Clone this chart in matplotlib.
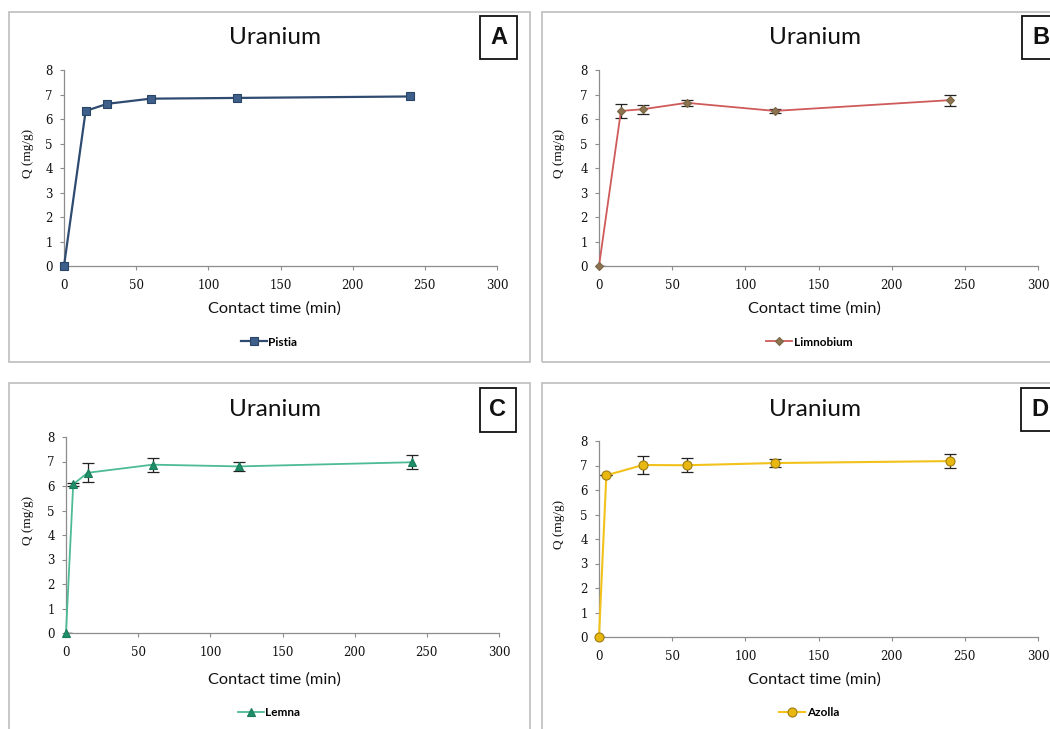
import matplotlib
matplotlib.use("Agg")
import matplotlib.pyplot as plt
from matplotlib.patches import Rectangle
from matplotlib.lines import Line2D

# ---- data ----
pistia_t = [0, 15, 30, 60, 120, 240]
pistia_q = [0, 6.33, 6.62, 6.83, 6.86, 6.92]

limno_t = [0, 15, 30, 60, 120, 240]
limno_q = [0, 6.33, 6.40, 6.66, 6.33, 6.77]
limno_err = [0, 0.29, 0.18, 0.13, 0.09, 0.22]

lemna_t = [0, 5, 15, 60, 120, 240]
lemna_q = [0, 6.07, 6.54, 6.87, 6.80, 6.97]
lemna_err = [0, 0.05, 0.38, 0.29, 0.17, 0.29]

azolla_t = [0, 5, 30, 60, 120, 240]
azolla_q = [0, 6.60, 7.02, 7.01, 7.10, 7.18]
azolla_err = [0, 0, 0.38, 0.28, 0.18, 0.27]

xticks = [0, 50, 100, 150, 200, 250, 300]
yticks = [0, 1, 2, 3, 4, 5, 6, 7, 8]
panel_letters = ["A", "B", "C", "D"]
title_text = "Uranium"
xlabel_text = "Contact time (min)"
ylabel_text = "Q (mg/g)"

W, H = 1050, 729
fig = plt.figure(figsize=(W / 100, H / 100), dpi=100)
fig.patch.set_facecolor("white")


def fx(x):
    return x / W


def fy(y):
    return 1 - y / H


def add_axes_px(l, r, t, b):
    return fig.add_axes([fx(l), fy(b), (r - l) / W, (b - t) / H])


# panel frames
for (x0, y0, x1, y1) in [(9, 12, 530, 362), (542, 12, 1060, 362),
                         (9, 383, 530, 740), (542, 383, 1060, 740)]:
    fig.patches.append(Rectangle((fx(x0), fy(y1)), (x1 - x0) / W, (y1 - y0) / H,
                                 transform=fig.transFigure, fill=False,
                                 edgecolor="#bdbdbd", linewidth=1.2, zorder=0))

axes_px = [(64, 497, 70, 266), (599, 1038, 70, 266),
           (66, 499, 437, 633), (599, 1038, 441, 637)]
panel_cx = [275, 815, 275, 815]
title_y = [38, 38, 410, 410]
xlabel_y = [309, 309, 680, 680]
legend_y = [342, 342, 713, 713]
ylabel_x = [28, 559, 28, 559]
box_px = [(480, 16, 517, 59), (1022, 16, 1062, 59),
          (480, 388, 516, 432), (1021, 388, 1061, 431)]

series = [
    dict(t=pistia_t, q=pistia_q, err=None, name="Pistia", color="#2f4b70",
         mfc="#3d5f8a", mec="#2a4466", marker="s", ms=5.5, lw=1.6),
    dict(t=limno_t, q=limno_q, err=limno_err, name="Limnobium", color="#cf5a5a",
         mfc="#8c7450", mec="#7a6443", marker="D", ms=4.5, lw=1.3),
    dict(t=lemna_t, q=lemna_q, err=lemna_err, name="Lemna", color="#4dbb94",
         mfc="#1f8f6a", mec="#1a7a5a", marker="^", ms=6, lw=1.3),
    dict(t=azolla_t, q=azolla_q, err=azolla_err, name="Azolla", color="#f2c21b",
         mfc="#e8b810", mec="#a07c10", marker="o", ms=6.5, lw=1.5),
]

tick_font = dict(family="DejaVu Serif", size=8.5)

for i, s in enumerate(series):
    l, r, t, b = axes_px[i]
    ax = add_axes_px(l, r, t, b)
    ax.set_xlim(0, 300)
    ax.set_ylim(0, 8)
    if s["err"] is not None:
        ax.errorbar(s["t"], s["q"], yerr=s["err"], fmt="none", ecolor="#222222",
                    elinewidth=0.9, capsize=4.5, capthick=0.9, zorder=2)
    ax.plot(s["t"], s["q"], color=s["color"], lw=s["lw"], marker=s["marker"],
            ms=s["ms"], mfc=s["mfc"], mec=s["mec"], mew=0.8, zorder=3,
            clip_on=False)
    for sp in ["top", "right"]:
        ax.spines[sp].set_visible(False)
    for sp in ["left", "bottom"]:
        ax.spines[sp].set_color("#8c8c8c")
        ax.spines[sp].set_linewidth(0.9)
    ax.set_xticks(xticks)
    ax.set_yticks(yticks)
    ax.tick_params(axis="both", direction="out", length=3, width=0.8,
                   color="#8c8c8c", labelcolor="#111111", pad=4)
    ax.set_xticklabels([str(v) for v in xticks], **tick_font)
    ax.set_yticklabels([str(v) for v in yticks], **tick_font)
    ax.tick_params(axis="x", pad=6)
    ax.tick_params(axis="y", pad=5)
    ax.set_facecolor("none")

    fig.text(fx(panel_cx[i]), fy(title_y[i]), title_text, ha="center", va="center",
             fontsize=17.5, family="Lato", color="#111111")
    fig.text(fx(panel_cx[i] - 1), fy(xlabel_y[i]), xlabel_text, ha="center", va="center",
             fontsize=11.8, family="Lato", color="#111111")
    fig.text(fx(ylabel_x[i]), fy((t + b) / 2 - 15), ylabel_text, ha="center", va="center",
             rotation=90, fontsize=9.5, family="Liberation Serif", color="#111111")

    bx0, by0, bx1, by1 = box_px[i]
    fig.patches.append(Rectangle((fx(bx0), fy(by1)), (bx1 - bx0) / W, (by1 - by0) / H,
                                 transform=fig.transFigure, fill=True,
                                 facecolor="white", edgecolor="#111111",
                                 linewidth=1.3, zorder=5))
    fig.text(fx((bx0 + bx1) / 2 if bx1 < 1050 else bx0 + 19), fy((by0 + by1) / 2),
             panel_letters[i], ha="center", va="center", fontsize=17,
             fontweight="bold", family="Liberation Sans", color="#111111", zorder=6)

    handle = Line2D([], [], color=s["color"], lw=s["lw"], marker=s["marker"],
                    ms=s["ms"], mfc=s["mfc"], mec=s["mec"], mew=0.8)
    fig.legend([handle], [s["name"]], loc="center",
               bbox_to_anchor=(fx(panel_cx[i] - 6), fy(legend_y[i])),
               frameon=False, handlelength=2.2, handletextpad=0.15,
               prop=dict(family="Lato", size=8.5, weight="bold"))

fig.savefig("out.png", dpi=100, facecolor="white")
